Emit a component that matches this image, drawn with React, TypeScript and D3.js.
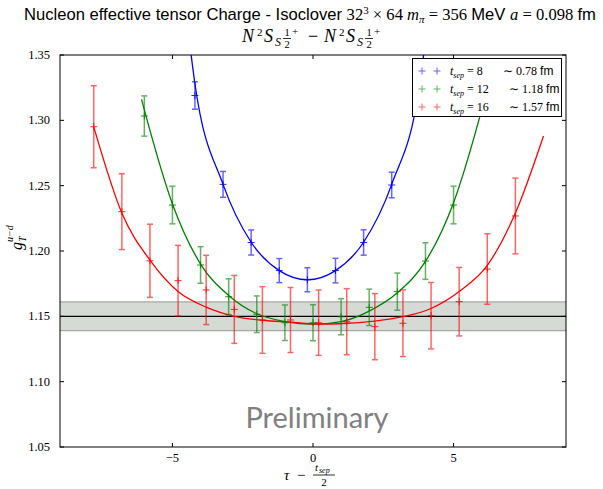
import React from 'react';
import * as d3 from 'd3';

// ---------- axes ----------
const X_DOMAIN: [number, number] = [-9, 9];
const Y_DOMAIN: [number, number] = [1.05, 1.35];
const X_TICKS = [-5, 0, 5];
const X_TICK_LABELS = ['−5', '0', '5'];
const Y_TICKS = [1.05, 1.1, 1.15, 1.2, 1.25, 1.3, 1.35];
const Y_TICK_LABELS = ['1.05', '1.10', '1.15', '1.20', '1.25', '1.30', '1.35'];

// ---------- band (fit result) ----------
const BAND_CENTER = 1.15;
const BAND_LOW = 1.139;
const BAND_HIGH = 1.161;

// ---------- tsep = 8 (blue) ----------
const BLUE_X = [-4.2, -3.2, -2.2, -1.2, -0.2, 0.8, 1.8, 2.8];
const BLUE_Y = [1.319, 1.251, 1.2065, 1.185, 1.178, 1.185, 1.2065, 1.2505];
const BLUE_ERR = [0.0105, 0.0099, 0.0096, 0.0092, 0.0092, 0.0094, 0.0097, 0.0098];
const BLUE_FIT_X = [-4.45, -4.2, -3.2, -2.2, -1.2, -0.2, 0.8, 1.8, 2.8, 3.8, 4.05];
const BLUE_FIT_Y = [1.37, 1.328, 1.251, 1.2067, 1.185, 1.178, 1.185, 1.2067, 1.251, 1.328, 1.37];

// ---------- tsep = 12 (green) ----------
const GREEN_X = [-6, -5, -4, -3, -2, -1, 0, 1, 2, 3, 4, 5];
const GREEN_Y = [1.3033, 1.2352, 1.1893, 1.165, 1.1516, 1.1451, 1.1451, 1.1497, 1.1569, 1.1689, 1.1923, 1.2352];
const GREEN_ERR = [0.0154, 0.0144, 0.014, 0.0137, 0.014, 0.0136, 0.0138, 0.0138, 0.0139, 0.0142, 0.014, 0.0144];
const GREEN_FIT_X = [-6.1, -6, -5, -4, -3, -2, -1, 0, 1, 2, 3, 4, 5, 6, 6.1];
const GREEN_FIT_Y = [1.316, 1.308, 1.236, 1.19, 1.166, 1.152, 1.146, 1.144, 1.146, 1.154, 1.168, 1.192, 1.237, 1.308, 1.316];

// ---------- tsep = 16 (red) ----------
const RED_X = [-7.8, -6.8, -5.8, -4.8, -3.8, -2.8, -1.8, -0.8, 0.2, 1.2, 2.2, 3.2, 4.2, 5.2, 6.2, 7.2];
const RED_Y = [1.2951, 1.2301, 1.1925, 1.1773, 1.1702, 1.1553, 1.1472, 1.1472, 1.1451, 1.1459, 1.1421, 1.1447, 1.1505, 1.1612, 1.1862, 1.2268];
const RED_ERR = [0.0314, 0.029, 0.028, 0.027, 0.0265, 0.026, 0.0255, 0.0249, 0.025, 0.0253, 0.0253, 0.0255, 0.0254, 0.0262, 0.027, 0.029];
const RED_FIT_X = [-7.8, -6.8, -5.8, -4.8, -3.8, -2.8, -1.8, -0.8, 0.2, 1.2, 2.2, 3.2, 4.2, 5.2, 6.2, 7.2, 8.2];
const RED_FIT_Y = [1.295, 1.229, 1.193, 1.169, 1.157, 1.15, 1.147, 1.1455, 1.144, 1.1447, 1.1464, 1.1497, 1.156, 1.169, 1.189, 1.229, 1.288];

// ---------- legend ----------
const LEGEND_TSEP = ['8', '12', '16'];
const LEGEND_FM = ['0.78', '1.18', '1.57'];
const COLORS = ['#0000ff', '#008000', '#ff0000'];

const SERIF = "'Liberation Serif', 'DejaVu Serif', serif";
const SANS = "'Liberation Sans', Arial, sans-serif";

const W = 603;
const H = 489;
const PL = 60, PR = 566, PT = 55, PB = 447;

export default function App() {
  const x = d3.scaleLinear().domain(X_DOMAIN).range([PL, PR]);
  const y = d3.scaleLinear().domain(Y_DOMAIN).range([PB, PT]);
  const line = d3
    .line<[number, number]>()
    .x((d) => x(d[0]))
    .y((d) => y(d[1]))
    .curve(d3.curveMonotoneX);

  const series = [
    { xs: BLUE_X, ys: BLUE_Y, err: BLUE_ERR, fx: BLUE_FIT_X, fy: BLUE_FIT_Y, color: COLORS[0] },
    { xs: GREEN_X, ys: GREEN_Y, err: GREEN_ERR, fx: GREEN_FIT_X, fy: GREEN_FIT_Y, color: COLORS[1] },
    { xs: RED_X, ys: RED_Y, err: RED_ERR, fx: RED_FIT_X, fy: RED_FIT_Y, color: COLORS[2] },
  ];

  const cap = 3;
  const mk = 3.5;

  const plus = (cx: number, cy: number, color: string, op: number, key: string) => (
    <g key={key} stroke={color} strokeWidth={1} opacity={op}>
      <line x1={cx - mk} x2={cx + mk} y1={cy} y2={cy} />
      <line x1={cx} x2={cx} y1={cy - mk} y2={cy + mk} />
    </g>
  );

  const legendRows = [71, 89, 107];

  return (
    <svg
      width={W}
      height={H}
      style={{ position: 'absolute', left: 0, top: 0, background: '#fff' }}
      xmlns="http://www.w3.org/2000/svg"
    >
      <defs>
        <clipPath id="plotclip">
          <rect x={PL} y={PT} width={PR - PL} height={PB - PT} />
        </clipPath>
      </defs>
      <rect x={0} y={0} width={W} height={H} fill="#fff" />

      {/* Title */}
      <text x={310} y={20} textAnchor="middle" fontSize={16.6} fill="#000" style={{ whiteSpace: 'pre' }}>
        <tspan fontFamily={SANS}>Nucleon effective tensor Charge - Isoclover </tspan>
        <tspan fontFamily={SERIF}>32</tspan>
        <tspan fontFamily={SERIF} fontSize={11} dy={-6}>3</tspan>
        <tspan fontFamily={SERIF} dy={6}> × 64 </tspan>
        <tspan fontFamily={SERIF} fontStyle="italic">m</tspan>
        <tspan fontFamily={SERIF} fontStyle="italic" fontSize={11} dy={3}>π</tspan>
        <tspan fontFamily={SERIF} dy={-3}> = 356 </tspan>
        <tspan fontFamily={SANS}>MeV </tspan>
        <tspan fontFamily={SERIF} fontStyle="italic">a</tspan>
        <tspan fontFamily={SERIF}> = 0.098 </tspan>
        <tspan fontFamily={SANS}>fm</tspan>
      </text>

      {/* Subtitle: N^2 S_S 1/2^+ - N^2 S_S 1/2^+ */}
      {[0, 1].map((k) => {
        const ox = 242 + k * 82;
        return (
          <g key={'sub' + k} fontFamily={SERIF} fill="#000">
            <text x={ox} y={42} fontSize={18} fontStyle="italic">N</text>
            <text x={ox + 15} y={36} fontSize={11}>2</text>
            <text x={ox + 22} y={42} fontSize={18} fontStyle="italic">S</text>
            <text x={ox + 33} y={46} fontSize={12} fontStyle="italic">S</text>
            <text x={ox + 45} y={36} fontSize={10.5} textAnchor="middle">1</text>
            <line x1={ox + 41} x2={ox + 49} y1={38.5} y2={38.5} stroke="#000" strokeWidth={0.8} />
            <text x={ox + 45} y={48} fontSize={10.5} textAnchor="middle">2</text>
            <text x={ox + 50} y={35} fontSize={11}>+</text>
          </g>
        );
      })}
      <text x={313} y={42} fontSize={18} fontFamily={SERIF} textAnchor="middle">−</text>

      {/* band */}
      <g clipPath="url(#plotclip)">
        <rect
          x={PL}
          y={y(BAND_HIGH)}
          width={PR - PL}
          height={y(BAND_LOW) - y(BAND_HIGH)}
          fill="#d5dad5"
          stroke="none"
        />
        <line x1={PL} x2={PR} y1={y(BAND_HIGH)} y2={y(BAND_HIGH)} stroke="#a4a8a4" strokeWidth={1.2} />
        <line x1={PL} x2={PR} y1={y(BAND_LOW)} y2={y(BAND_LOW)} stroke="#a4a8a4" strokeWidth={1.2} />
        <line x1={PL} x2={PR} y1={y(BAND_CENTER)} y2={y(BAND_CENTER)} stroke="#000" strokeWidth={1.2} />

        {series.map((s, si) => (
          <path
            key={'fit' + si}
            d={line(s.fx.map((v, i) => [v, s.fy[i]] as [number, number])) || ''}
            fill="none"
            stroke={s.color}
            strokeWidth={1.3}
          />
        ))}

        {series.map((s, si) => (
          <g key={'pts' + si}>
            {s.xs.map((xv, i) => {
              const cx = x(xv);
              const yt = y(s.ys[i] + s.err[i]);
              const yb = y(s.ys[i] - s.err[i]);
              return (
                <g key={i}>
                  <g stroke={s.color} strokeWidth={1.5} opacity={0.6}>
                    <line x1={cx} x2={cx} y1={yt} y2={yb} />
                    <line x1={cx - cap} x2={cx + cap} y1={yt} y2={yt} />
                    <line x1={cx - cap} x2={cx + cap} y1={yb} y2={yb} />
                  </g>
                  {plus(cx, y(s.ys[i]), s.color, 0.85, 'm' + i)}
                </g>
              );
            })}
          </g>
        ))}
      </g>

      {/* Preliminary */}
      <text x={317} y={428} textAnchor="middle" fontSize={29} fontFamily="Lato, 'Open Sans', sans-serif" fill="#808080">
        Preliminary
      </text>

      {/* Legend */}
      <rect x={412.5} y={58.5} width={149} height={58} fill="#fff" stroke="#000" strokeWidth={1} />
      {legendRows.map((ry, i) => (
        <g key={'leg' + i}>
          {plus(422, ry, COLORS[i], 0.6, 'a')}
          {plus(437, ry, COLORS[i], 0.6, 'b')}
          <text x={450} y={ry + 4} fontSize={12} fontFamily={SERIF} style={{ whiteSpace: 'pre' }}>
            <tspan fontStyle="italic">t</tspan>
            <tspan fontStyle="italic" fontSize={8} dy={3}>sep</tspan>
            <tspan dy={-3}> = {LEGEND_TSEP[i]}</tspan>
          </text>
          <text x={i === 0 ? 503 : 509} y={ry + 4} fontSize={12} fontFamily={SERIF} style={{ whiteSpace: 'pre' }}>
            <tspan>∼ {LEGEND_FM[i]} </tspan>
            <tspan fontFamily={SANS}>fm</tspan>
          </text>
        </g>
      ))}

      {/* frame */}
      <rect x={PL} y={PT} width={PR - PL} height={PB - PT} fill="none" stroke="#000" strokeWidth={1} />

      {/* ticks */}
      {X_TICKS.map((t, i) => (
        <g key={'xt' + i}>
          <line x1={x(t)} x2={x(t)} y1={PB} y2={PB - 4} stroke="#000" />
          <line x1={x(t)} x2={x(t)} y1={PT} y2={PT + 4} stroke="#000" />
          <text x={x(t)} y={462} textAnchor="middle" fontSize={12.5} fontFamily={SERIF}>
            {X_TICK_LABELS[i]}
          </text>
        </g>
      ))}
      {Y_TICKS.map((t, i) => (
        <g key={'yt' + i}>
          <line x1={PL} x2={PL + 4} y1={y(t)} y2={y(t)} stroke="#000" />
          <line x1={PR} x2={PR - 4} y1={y(t)} y2={y(t)} stroke="#000" />
          <text x={50} y={y(t) + 4} textAnchor="end" fontSize={12.5} fontFamily={SERIF}>
            {Y_TICK_LABELS[i]}
          </text>
        </g>
      ))}

      {/* x label */}
      <g fontFamily={SERIF} fill="#000">
        <text x={284} y={480} fontSize={15} fontStyle="italic">τ</text>
        <text x={297} y={480} fontSize={15}>−</text>
        <text x={315} y={471} fontSize={11} fontStyle="italic">t</text>
        <text x={319} y={473} fontSize={8} fontStyle="italic">sep</text>
        <line x1={313} x2={335} y1={475} y2={475} stroke="#000" strokeWidth={0.8} />
        <text x={324} y={486} fontSize={11} textAnchor="middle">2</text>
      </g>

      {/* y label */}
      <g transform="translate(18, 240) rotate(-90)" fontFamily={SERIF} fill="#000">
        <text x={-10} y={4} fontSize={16} fontStyle="italic">g</text>
        <text x={-2} y={8} fontSize={10} fontStyle="italic">T</text>
        <text x={-2} y={-5} fontSize={10} fontStyle="italic">u−d</text>
      </g>
    </svg>
  );
}
